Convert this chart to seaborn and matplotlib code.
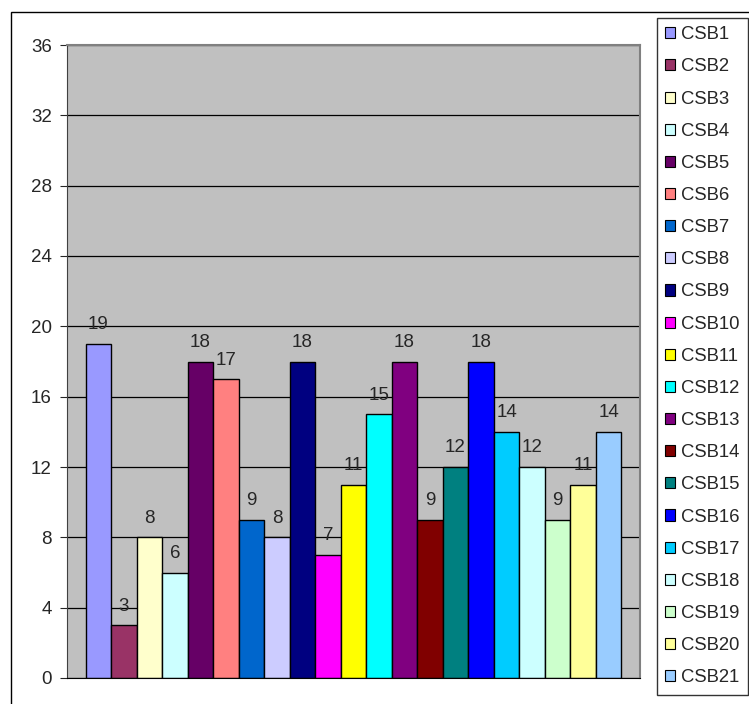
import pandas as pd
import numpy as np
import matplotlib.pyplot as plt
import seaborn as sns
from matplotlib.patches import Rectangle

names = ["CSB%d" % i for i in range(1, 22)]
values = [19, 3, 8, 6, 18, 17, 9, 8, 18, 7, 11, 15, 18, 9, 12, 18, 14, 12, 9, 11, 14]
colors = ["#9999FF", "#993366", "#FFFFCC", "#CCFFFF", "#660066", "#FF8080", "#0066CC",
          "#CCCCFF", "#000080", "#FF00FF", "#FFFF00", "#00FFFF", "#800080", "#800000",
          "#008080", "#0000FF", "#00CCFF", "#CCFFFF", "#CCFFCC", "#FFFF99", "#99CCFF"]
yticks = [0, 4, 8, 12, 16, 20, 24, 28, 32, 36]

df = pd.DataFrame({"group": [""] * len(names), "name": names, "value": values})

sns.set_style("white")
plt.rcParams['font.family'] = ['Liberation Sans', 'DejaVu Sans']

fig = plt.figure(figsize=(7.49, 7.04), dpi=100)
fig.patches.append(Rectangle((11 / 749, -0.1), 1.2, 1 - 12 / 704 + 0.1,
                             transform=fig.transFigure, fill=False,
                             edgecolor="black", linewidth=1))
ax = fig.add_axes([67 / 749, 1 - 678 / 704, (640 - 67) / 749, (678 - 45) / 704])
ax.set_facecolor("#C0C0C0")

sns.barplot(data=df, x="group", y="value", hue="name", palette=colors,
            dodge=True, width=0.935, edgecolor="black", linewidth=1,
            legend=False, ax=ax, saturation=1)

for bar, v in zip(ax.patches, values):
    ax.text(bar.get_x() + bar.get_width() / 2, v + 0.6, str(v),
            ha="center", va="bottom", fontsize=13.5)

ax.set_ylim(0, 36)
ax.set_xlim(-0.5, 0.5)
ax.set_yticks(yticks)
ax.yaxis.grid(True, color="black", linewidth=0.9)
ax.set_axisbelow(True)
ax.tick_params(axis="y", left=True, length=5, width=0.8, labelsize=13.5, pad=6)
ax.tick_params(axis="x", bottom=False, labelbottom=False)
ax.set_xlabel("")
ax.set_ylabel("")
for s in ["top", "right"]:
    ax.spines[s].set_color("#808080")
    ax.spines[s].set_linewidth(1.5)
ax.spines["left"].set_color("#404040")
ax.spines["bottom"].set_color("black")

handles = [Rectangle((0, 0), 1, 1, facecolor=c, edgecolor="black", linewidth=0.8) for c in colors]
leg = fig.legend(handles, names, loc="upper left",
                 bbox_to_anchor=(657 / 749, 1 - 18 / 704), fontsize=13.3,
                 frameon=True, fancybox=False, handlelength=0.55, handleheight=0.55,
                 handletextpad=0.3, labelspacing=0.82, borderaxespad=0,
                 borderpad=0.45)
leg.get_frame().set_edgecolor("black")
leg.get_frame().set_linewidth(1)

fig.savefig("out.png", dpi=100)
